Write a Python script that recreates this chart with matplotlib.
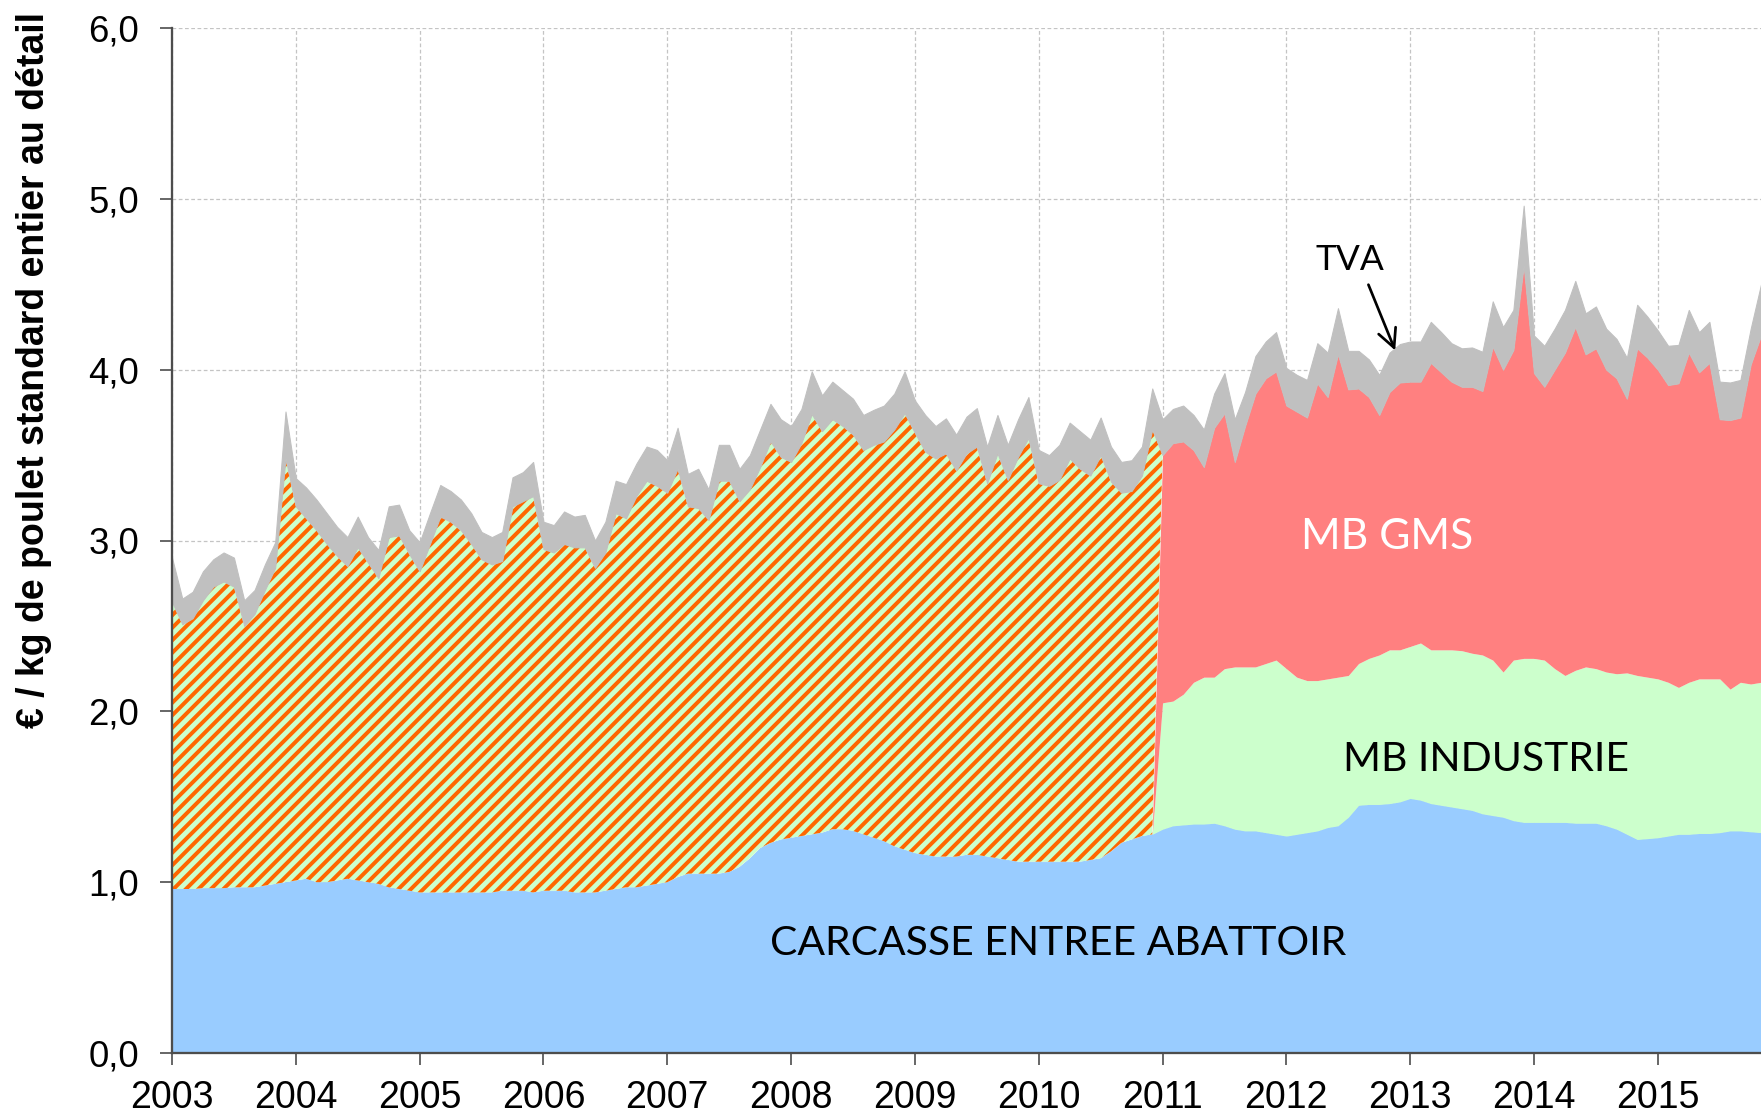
import numpy as np
import matplotlib.pyplot as plt

# mois de janvier 2003 a novembre 2015
annees = list(range(2003, 2016))
debut_2011 = 96

# prix en euros / kg
prix_carcasse = [
    0.96, 0.96, 0.96, 0.965, 0.965, 0.965, 0.97, 0.97, 0.97, 0.98, 0.99, 1.00,
    1.01, 1.02, 1.00, 1.00, 1.01, 1.02, 1.01, 1.00, 0.99, 0.97, 0.96, 0.95,
    0.94, 0.94, 0.94, 0.94, 0.94, 0.94, 0.94, 0.94, 0.95, 0.95, 0.95, 0.94,
    0.95, 0.95, 0.95, 0.94, 0.94, 0.94, 0.95, 0.96, 0.97, 0.97, 0.98, 0.99,
    1.00, 1.03, 1.05, 1.05, 1.05, 1.05, 1.06, 1.09, 1.14, 1.20, 1.23, 1.25,
    1.26, 1.27, 1.28, 1.29, 1.31, 1.31, 1.30, 1.28, 1.26, 1.24, 1.21, 1.19,
    1.17, 1.16, 1.15, 1.15, 1.15, 1.16, 1.16, 1.15, 1.14, 1.13, 1.12, 1.12,
    1.12, 1.12, 1.12, 1.12, 1.12, 1.13, 1.14, 1.18, 1.23, 1.25, 1.27, 1.28,
    1.31, 1.33, 1.335, 1.34, 1.34, 1.345, 1.33, 1.31, 1.30, 1.30, 1.29, 1.28,
    1.27, 1.28, 1.29, 1.30, 1.32, 1.33, 1.38, 1.45, 1.455, 1.455, 1.46, 1.47,
    1.49, 1.48, 1.46, 1.45, 1.44, 1.43, 1.42, 1.40, 1.39, 1.38, 1.36, 1.35,
    1.35, 1.35, 1.35, 1.35, 1.345, 1.345, 1.345, 1.33, 1.31, 1.28, 1.25, 1.255,
    1.26, 1.27, 1.28, 1.28, 1.285, 1.285, 1.29, 1.30, 1.30, 1.295, 1.29,
]

# sortie industrie, connu seulement a partir de janvier 2011
prix_sortie_industrie = [
    2.05, 2.06, 2.10, 2.17, 2.20, 2.20, 2.25, 2.26, 2.26, 2.26, 2.28, 2.30,
    2.25, 2.20, 2.18, 2.18, 2.19, 2.20, 2.21, 2.28, 2.31, 2.33, 2.36, 2.36,
    2.38, 2.40, 2.36, 2.36, 2.36, 2.355, 2.34, 2.33, 2.30, 2.23, 2.30, 2.31,
    2.31, 2.30, 2.25, 2.21, 2.24, 2.26, 2.25, 2.23, 2.22, 2.225, 2.21, 2.20,
    2.19, 2.17, 2.14, 2.17, 2.19, 2.19, 2.19, 2.13, 2.17, 2.16, 2.17,
]

prix_detail_ht = [
    2.64, 2.51, 2.545, 2.65, 2.73, 2.76, 2.73, 2.50, 2.57, 2.71, 2.84, 3.48,
    3.20, 3.13, 3.06, 2.98, 2.91, 2.85, 2.96, 2.87, 2.78, 3.02, 3.03, 2.92,
    2.82, 2.98, 3.14, 3.11, 3.06, 2.98, 2.89, 2.86, 2.88, 3.20, 3.23, 3.26,
    2.95, 2.93, 2.98, 2.96, 2.96, 2.84, 2.93, 3.16, 3.13, 3.26, 3.35, 3.32,
    3.28, 3.42, 3.20, 3.19, 3.12, 3.35, 3.35, 3.23, 3.30, 3.43, 3.58, 3.49,
    3.46, 3.57, 3.74, 3.64, 3.71, 3.67, 3.62, 3.53, 3.56, 3.58, 3.65, 3.745,
    3.63, 3.52, 3.48, 3.51, 3.41, 3.51, 3.55, 3.335, 3.51, 3.355, 3.49, 3.60,
    3.335, 3.32, 3.355, 3.48, 3.42, 3.38, 3.50, 3.345, 3.28, 3.29, 3.38, 3.65,
    3.50, 3.57, 3.58, 3.53, 3.43, 3.66, 3.745, 3.46, 3.67, 3.86, 3.95, 3.99,
    3.79, 3.755, 3.72, 3.92, 3.84, 4.09, 3.885, 3.89, 3.84, 3.735, 3.87, 3.925,
    3.93, 3.93, 4.04, 3.985, 3.93, 3.90, 3.90, 3.875, 4.135, 4.00, 4.115, 4.61,
    3.98, 3.90, 4.00, 4.10, 4.25, 4.09, 4.125, 4.00, 3.95, 3.83, 4.125, 4.07,
    4.00, 3.91, 3.92, 4.10, 3.985, 4.04, 3.71, 3.705, 3.72, 4.03, 4.20,
]

prix_detail_ttc = [
    2.90, 2.66, 2.70, 2.82, 2.89, 2.93, 2.90, 2.65, 2.71, 2.86, 2.99, 3.755,
    3.365, 3.31, 3.24, 3.16, 3.08, 3.02, 3.14, 3.02, 2.945, 3.20, 3.21, 3.06,
    2.99, 3.16, 3.325, 3.29, 3.24, 3.16, 3.05, 3.02, 3.05, 3.37, 3.40, 3.46,
    3.11, 3.09, 3.17, 3.14, 3.15, 3.00, 3.11, 3.35, 3.33, 3.45, 3.55, 3.53,
    3.47, 3.66, 3.39, 3.42, 3.30, 3.56, 3.56, 3.42, 3.50, 3.65, 3.80, 3.71,
    3.67, 3.77, 3.99, 3.85, 3.93, 3.88, 3.83, 3.735, 3.765, 3.79, 3.86, 3.99,
    3.82, 3.735, 3.67, 3.715, 3.62, 3.725, 3.775, 3.55, 3.735, 3.56, 3.71, 3.84,
    3.53, 3.50, 3.56, 3.69, 3.64, 3.59, 3.72, 3.55, 3.46, 3.47, 3.55, 3.89,
    3.71, 3.77, 3.79, 3.735, 3.65, 3.86, 3.98, 3.71, 3.87, 4.08, 4.165, 4.22,
    4.01, 3.97, 3.94, 4.155, 4.10, 4.36, 4.11, 4.11, 4.06, 3.97, 4.10, 4.15,
    4.165, 4.165, 4.28, 4.22, 4.155, 4.125, 4.13, 4.105, 4.40, 4.25, 4.35, 4.96,
    4.20, 4.14, 4.24, 4.35, 4.52, 4.33, 4.37, 4.24, 4.18, 4.07, 4.38, 4.31,
    4.23, 4.14, 4.145, 4.35, 4.22, 4.28, 3.93, 3.925, 3.94, 4.24, 4.50,
]

carcasse = np.array(prix_carcasse)
ht = np.array(prix_detail_ht)
ttc = np.array(prix_detail_ttc)
n = len(carcasse)
sortie = np.zeros(n)
sortie[debut_2011:] = prix_sortie_industrie

# marges brutes
mb_industrie = np.zeros(n)
mb_gms = np.zeros(n)
mb_cumul = np.zeros(n)
mb_industrie[debut_2011:] = sortie[debut_2011:] - carcasse[debut_2011:]
mb_gms[debut_2011:] = ht[debut_2011:] - sortie[debut_2011:]
mb_cumul[:debut_2011] = ht[:debut_2011] - carcasse[:debut_2011]
tva = ttc - ht

plt.rcParams['hatch.linewidth'] = 1.9
plt.rcParams['hatch.color'] = '#FF6600'

fig = plt.figure(figsize=(1761/150, 1114/150), dpi=150)
ax = fig.add_axes([172/1761, 61/1114, 1589/1761, 1025/1114])

x = np.arange(n)
couleurs = ['#99CCFF', '#CCFFCC', '#FF8080', '#CCFFCC', '#C0C0C0']
polys = ax.stackplot(x, carcasse, mb_industrie, mb_gms, mb_cumul, tva,
                     colors=couleurs)
for p, c in zip(polys, couleurs):
    p.set_edgecolor(c)
    p.set_linewidth(0)
polys[0].set_linewidth(0.5)
polys[4].set_linewidth(0.5)
polys[3].set_hatch('////')
polys[3].set_edgecolor('#FF6600')

ax.set_xlim(0, n - 1)
ax.set_ylim(0, 6)
ax.set_xticks(np.arange(0, n, 12))
ax.set_xticklabels([str(a) for a in annees])
ax.set_yticks(np.arange(0, 7, 1))
ax.set_yticklabels([f"{v:.1f}".replace('.', ',') for v in range(7)])

ax.grid(True, color='#C4C4C4', linestyle=(0, (3, 2)), linewidth=0.6)
ax.set_axisbelow(True)
for s in ['top', 'right']:
    ax.spines[s].set_visible(False)
for s in ['left', 'bottom']:
    ax.spines[s].set_color('#4D4D4D')
    ax.spines[s].set_linewidth(1.1)

ax.tick_params(axis='both', direction='out', length=5.8, width=0.8,
               color='#4D4D4D')
ax.tick_params(axis='x', pad=7, labelsize=18)
ax.tick_params(axis='y', pad=10, labelsize=17.5)
for lab in ax.get_xticklabels() + ax.get_yticklabels():
    lab.set_family('Liberation Sans')

fig.text(34/1761, 1 - 370/1114, "€ / kg de poulet standard entier au détail",
         rotation=90, ha='center', va='center', fontsize=18,
         fontweight='bold', family='Liberation Sans')

police = 'Lato'
ax.text(85.9, 0.64, "CARCASSE ENTREE ABATTOIR", ha='center', va='center',
        fontsize=19.6, family=police, color='black')
ax.text(127.3, 1.72, "MB INDUSTRIE", ha='center', va='center',
        fontsize=19.6, family=police, color='black')
ax.text(117.8, 3.02, "MB GMS", ha='center', va='center',
        fontsize=20.5, family=police, color='white')
ax.text(114.2, 4.64, "TVA", ha='center', va='center',
        fontsize=17, family=police, color='black')
ax.annotate('', xy=(118.7, 4.09), xytext=(115.8, 4.52),
            arrowprops=dict(arrowstyle='->', color='black', lw=1.3,
                            mutation_scale=22))

fig.savefig('out.png', dpi=150)
